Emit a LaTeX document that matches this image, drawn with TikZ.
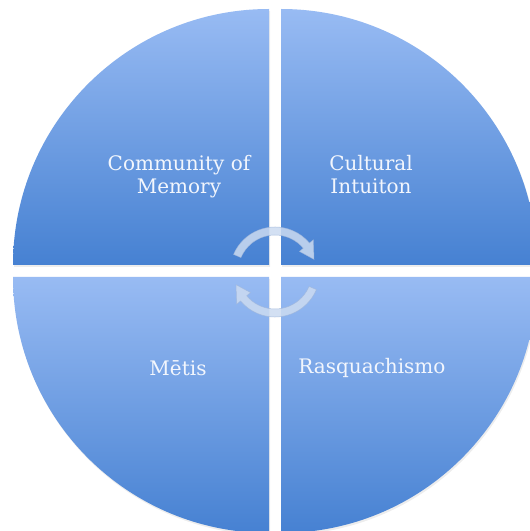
\documentclass[tikz,border=0pt]{standalone}
\usepackage{fontspec}
\setmainfont{DejaVu Serif}
\definecolor{qtop}{HTML}{98BBF3}
\definecolor{qbot}{HTML}{4681D2}
\definecolor{afill}{HTML}{CCDBF1}
\definecolor{aline}{HTML}{9FB6DA}
\definecolor{txt}{HTML}{F2F6FD}
\tikzset{
  quad/.style={shading=axis, top color=qtop, bottom color=qbot, shading angle=0},
  qshadow/.style={fill=black, opacity=0.07},
  cyc/.style={fill=afill, fill opacity=0.85, draw=aline, draw opacity=0.8, line width=0.5pt},
  lbl/.style={text=txt, font=\fontsize{20}{23}\selectfont, align=center, inner sep=0pt}
}
\begin{document}
\begin{tikzpicture}[x=1pt,y=1pt]
\useasboundingbox (0,0) rectangle (530,531);
\fill[white] (0,0) rectangle (530,531);
% shadows
\begin{scope}[shift={(1,-2)}]
\fill[qshadow] (269,266) -- ++(-256,0) arc[start angle=180,end angle=90,radius=256pt] -- cycle;
\fill[qshadow] (281,266) -- ++(0,256) arc[start angle=90,end angle=0,radius=256pt] -- cycle;
\fill[qshadow] (269,254) -- ++(-256,0) arc[start angle=180,end angle=270,radius=256pt] -- cycle;
\fill[qshadow] (281,254) -- ++(256,0) arc[start angle=0,end angle=-90,radius=256pt] -- cycle;
\end{scope}
% quadrants
\path[quad] (269,266) -- ++(-256,0) arc[start angle=180,end angle=90,radius=256pt] -- cycle;
\path[quad] (281,266) -- ++(0,256) arc[start angle=90,end angle=0,radius=256pt] -- cycle;
\path[quad] (269,254) -- ++(-256,0) arc[start angle=180,end angle=270,radius=256pt] -- cycle;
\path[quad] (281,254) -- ++(256,0) arc[start angle=0,end angle=-90,radius=256pt] -- cycle;
% labels
\node[lbl] (cm) at (179,354) {Community of\\Memory};
\node[lbl] (ci) at (371,356) {Cultural\\Intuiton};
\node[lbl] (me) at (178,163) {Mētis};
\node[lbl] (ra) at (372,163) {Rasquachismo};
% cycle arrows
\begin{scope}[shift={(275,259)}]
\path[cyc] (157:45pt) arc[start angle=157,end angle=40,radius=45pt] -- (40:50pt) -- (18:41pt) -- (40:32pt) -- (40:37pt) arc[start angle=40,end angle=157,radius=37pt] -- cycle;
\end{scope}
\begin{scope}[shift={(275,259)},rotate=180]
\path[cyc] (157:45pt) arc[start angle=157,end angle=40,radius=45pt] -- (40:50pt) -- (18:41pt) -- (40:32pt) -- (40:37pt) arc[start angle=40,end angle=157,radius=37pt] -- cycle;
\end{scope}
\end{tikzpicture}
\end{document}
